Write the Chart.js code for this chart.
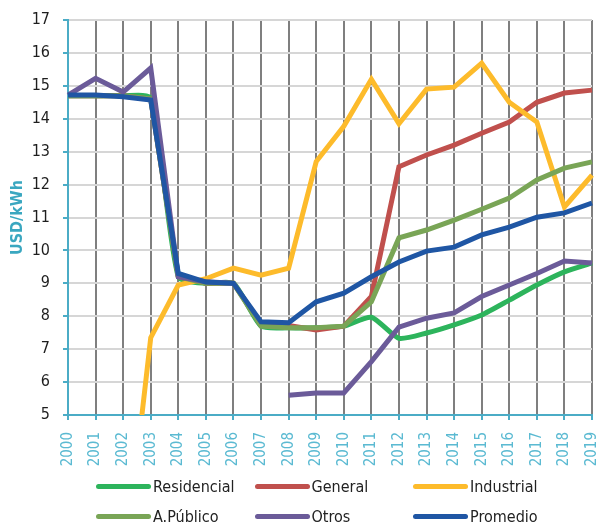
<!DOCTYPE html>
<html>
<head>
<meta charset="utf-8">
<script src="https://cdn.jsdelivr.net/npm/chart.js@4"></script>
<style>
  html, body { margin: 0; padding: 0; background: #fff; }
  #wrap { position: relative; width: 598px; height: 528px; }
  #chart { position: absolute; left: 0; top: 0; }
  .legend-item {
    position: absolute;
    display: flex;
    align-items: center;
    font-family: "DejaVu Sans Condensed", "Liberation Sans", sans-serif;
    font-size: 16px;
    color: #222;
    white-space: nowrap;
  }
  .legend-line {
    width: 55px;
    height: 5px;
    border-radius: 3px;
    margin-right: 2px;
  }
</style>
</head>
<body>
<div id="wrap">
  <canvas id="chart" width="598" height="528"></canvas>
</div>
<script>
const years = ["2000", "2001", "2002", "2003", "2004", "2005", "2006", "2007", "2008", "2009",
  "2010", "2011", "2012", "2013", "2014", "2015", "2016", "2017", "2018", "2019"];

const residencial = [14.7, 14.7, 14.7, 14.62, 9.2, 9.0, 9.0, 7.7, 7.65, 7.65, 7.7, 7.97, 7.33, 7.49, 7.74, 8.04, 8.49, 8.95, 9.35, 9.62];
const general = [14.7, 14.7, 14.7, 14.6, 9.2, 9.0, 9.0, 7.75, 7.72, 7.58, 7.7, 8.6, 12.54, 12.9, 13.2, 13.56, 13.9, 14.5, 14.78, 14.87];
const industrial = [null, null, 0, 7.35, 8.95, 9.14, 9.46, 9.25, 9.46, 12.7, 13.77, 15.2, 13.85, 14.9, 14.96, 15.69, 14.5, 13.9, 11.32, 12.29];
const aPublico = [14.7, 14.7, 14.7, 14.6, 9.2, 9.0, 9.0, 7.7, 7.65, 7.65, 7.7, 8.44, 10.38, 10.62, 10.92, 11.25, 11.59, 12.14, 12.5, 12.69];
const otros = [14.72, 15.23, 14.81, 15.54, 9.2, 9.05, 9.0, null, 5.6, 5.67, 5.67, 6.62, 7.67, 7.94, 8.1, 8.6, 8.95, 9.3, 9.68, 9.62];
const promedio = [14.72, 14.72, 14.67, 14.57, 9.3, 9.04, 9.0, 7.83, 7.8, 8.44, 8.7, 9.2, 9.65, 9.98, 10.1, 10.47, 10.71, 11.01, 11.14, 11.44];

const seriesNames = ["Residencial", "General", "Industrial", "A.Público", "Otros", "Promedio"];
const seriesColors = ["#2db45c", "#c0504d", "#fdbb2b", "#79a556", "#6b5b99", "#1f56a4"];
const seriesData = [residencial, general, industrial, aPublico, otros, promedio];

const yMin = 5;
const yMax = 17;

const narrowFont = "'DejaVu Sans Condensed', 'Liberation Sans', sans-serif";
const teal = "#4bacc6";

// later series are drawn on top (lowest order = top)
const datasets = seriesNames.map((name, i) => ({
  label: name,
  data: seriesData[i],
  order: seriesNames.length - 1 - i,
  borderColor: seriesColors[i],
  backgroundColor: seriesColors[i],
  borderWidth: 5,
  pointRadius: 0,
  tension: name === "Residencial" ? 0.2 : 0,
  spanGaps: false,
  fill: false
}));

new Chart(document.getElementById("chart"), {
  type: "line",
  data: { labels: years, datasets },
  options: {
    responsive: false,
    animation: false,
    layout: { padding: { top: 20, right: 6, left: 0, bottom: 0 } },
    plugins: {
      legend: { display: false },
      tooltip: { enabled: false }
    },
    scales: {
      x: {
        offset: false,
        grid: { color: "#7f7f7f", lineWidth: 2, tickColor: teal, tickLength: 5 },
        border: { color: teal, width: 2 },
        ticks: {
          autoSkip: false,
          minRotation: 90,
          maxRotation: 90,
          padding: 12,
          color: "#5bbad2",
          font: { family: narrowFont, size: 15 }
        },
        afterFit: function(scale) {
          scale.height = 113;
          scale.paddingLeft = 0;
          scale.paddingRight = 0;
        }
      },
      y: {
        min: yMin,
        max: yMax,
        grid: { color: "#d6d6d6", lineWidth: 2, tickColor: teal, tickLength: 5 },
        border: { color: teal, width: 2 },
        ticks: {
          stepSize: 1,
          padding: 13,
          color: "#1e1e1e",
          font: { family: narrowFont, size: 16 }
        },
        title: {
          display: true,
          text: "USD/kWh",
          color: "#3aa7c0",
          padding: { top: 8, bottom: 0 },
          font: { family: narrowFont, size: 16, weight: "bold" }
        },
        afterFit: function(scale) {
          scale.width = 68;
          scale.paddingTop = 0;
          scale.paddingBottom = 0;
        }
      }
    }
  }
});

// legend, 3 columns x 2 rows
const wrap = document.getElementById("wrap");
seriesNames.forEach((name, i) => {
  const item = document.createElement("div");
  item.className = "legend-item";
  item.style.left = (96 + (i % 3) * 158.5) + "px";
  item.style.top = (477 + Math.floor(i / 3) * 29.5) + "px";
  item.innerHTML = `<span class="legend-line" style="background:${seriesColors[i]}"></span><span>${name}</span>`;
  wrap.appendChild(item);
});
</script>
</body>
</html>
